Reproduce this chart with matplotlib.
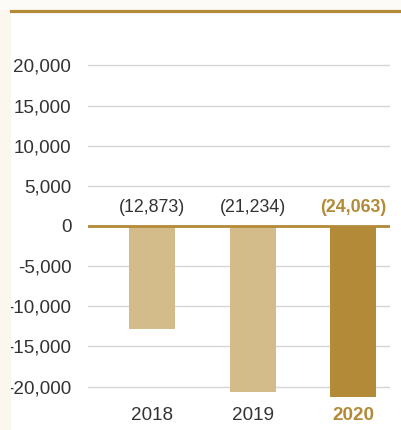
import matplotlib
matplotlib.use("Agg")
import matplotlib.pyplot as plt
from matplotlib.patches import Rectangle
from matplotlib.lines import Line2D

years = ["2018", "2019", "2020"]
values = [-12873, -20650, -21250]          # bar ends as drawn in the picture
value_labels = ["(12,873)", "(21,234)", "(24,063)"]
yticks = [20000, 15000, 10000, 5000, 0, -5000, -10000, -15000, -20000]

light = "#d4bc8a"
gold = "#b38b38"
text_col = "#333333"

plt.rcParams["font.family"] = ["Liberation Sans", "DejaVu Sans"]

fig = plt.figure(figsize=(4.01, 4.30), dpi=100, facecolor="white")

# faint paper texture on the left edge and top band
fig.patches.append(Rectangle((0, 0), 11 / 401, 1, transform=fig.transFigure,
                             facecolor="#fbf7ef", edgecolor="none", zorder=0))
fig.patches.append(Rectangle((0, 1 - 10 / 430), 1, 10 / 430, transform=fig.transFigure,
                             facecolor="#fcfbf8", edgecolor="none", zorder=0))
fig.lines.append(Line2D([11 / 401, 1], [1 - 10.5 / 430, 1 - 10.5 / 430],
                        transform=fig.transFigure, color=gold, lw=2.3))

ax = fig.add_axes([88 / 401, (430 - 398.6) / 430, 302 / 401, (398.6 - 57.4) / 430])
ax.set_facecolor("none")

x = list(range(len(years)))
colors = [light, light, gold]
ax.bar(x, values, width=0.458, color=colors, zorder=2)

ax.set_xlim(-0.637, 2.368)
ax.set_ylim(-21500, 21000)
ax.set_yticks(yticks)
ax.set_yticklabels([f"{v:,}" for v in yticks])
ax.yaxis.grid(True, color="#d6d6d6", lw=1.0, zorder=0)
ax.axhline(0, color=gold, lw=2.0, zorder=3)

ax.set_xticks(x)
ax.set_xticklabels(years)
for i, t in enumerate(ax.get_xticklabels()):
    if i == 2:
        t.set_color(gold)
        t.set_fontweight("bold")
    else:
        t.set_color(text_col)

ax.tick_params(axis="y", length=0, pad=12, labelsize=13.6, labelcolor=text_col)
ax.tick_params(axis="x", length=0, pad=6, labelsize=13.6)

for s in ax.spines.values():
    s.set_visible(False)

for i, lab in enumerate(value_labels):
    bold = i == 2
    ax.annotate(lab, (x[i], 0), xytext=(0, 13), textcoords="offset points",
                ha="center", va="center", fontsize=12.8,
                color=gold if bold else text_col,
                fontweight="bold" if bold else "normal")

fig.savefig("out.png", dpi=100)
